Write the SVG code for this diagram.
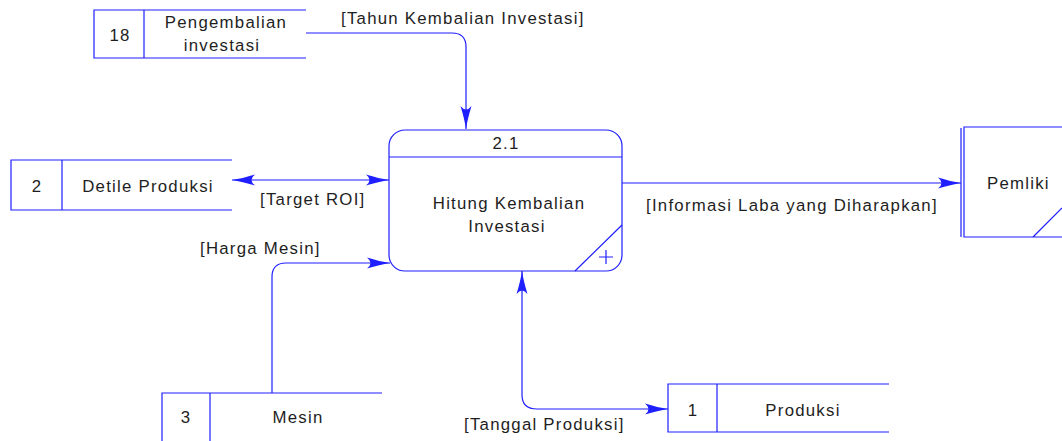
<svg xmlns="http://www.w3.org/2000/svg" width="1062" height="441" viewBox="0 0 1062 441">
  <style>
    .ln { fill: none; stroke: #1f1fff; stroke-width: 1.2; }
    .t { font-family: "Liberation Sans", Arial, sans-serif; font-size: 16.8px; letter-spacing: 1.25px; fill: #1e1e1e; }
    .m { text-anchor: middle; }
  </style>
  <defs>
    <marker id="arr" viewBox="-24 -6 25 12" refX="0" refY="0" markerWidth="25" markerHeight="12" markerUnits="userSpaceOnUse" orient="auto-start-reverse">
      <path d="M0,0 Q-10,-1.5 -23,-5.5 Q-16,0 -23,5.5 Q-10,1.5 0,0 Z" fill="#1f1fff"/>
    </marker>
  </defs>
  <rect width="1062" height="441" fill="#ffffff"/>

  <!-- data flows -->
  <g id="connectors">
    <path class="ln" d="M306,33 H452 Q466,33 466,47 V129" marker-end="url(#arr)"/>
    <path class="ln" d="M232,180 H389" marker-start="url(#arr)" marker-end="url(#arr)"/>
    <path class="ln" d="M272,393 V277 Q272,263 286,263 H390" marker-end="url(#arr)"/>
    <path class="ln" d="M522,271 V395 Q522,409 537,409 H668" marker-start="url(#arr)" marker-end="url(#arr)"/>
    <path class="ln" d="M622,183 H961" marker-end="url(#arr)"/>
    <text class="t" x="341" y="24">[Tahun Kembalian Investasi]</text>
    <text class="t" x="260" y="205">[Target ROI]</text>
    <text class="t" x="200" y="254">[Harga Mesin]</text>
    <text class="t" x="646" y="211">[Informasi Laba yang Diharapkan]</text>
    <text class="t" x="464" y="430">[Tanggal Produksi]</text>
  </g>

  <!-- process 2.1 -->
  <g id="process-2-1">
    <rect class="ln" x="389" y="130" width="233" height="141" rx="16" ry="16"/>
    <path class="ln" d="M389,157 H622 M575,271 L622,225"/>
    <path class="ln" d="M599,257 H613 M606,250 V264" stroke-width="1"/>
    <text class="t m" x="506" y="149">2.1</text>
    <text class="t m" x="509" y="209">Hitung Kembalian</text>
    <text class="t m" x="507" y="232">Investasi</text>
  </g>

  <!-- data store 18 -->
  <g id="store-18">
    <path class="ln" d="M306,10 H94 V58 H306 M144,10 V58"/>
    <text class="t m" x="120" y="41">18</text>
    <text class="t m" x="226" y="28">Pengembalian</text>
    <text class="t m" x="222" y="51">investasi</text>
  </g>

  <!-- data store 2 -->
  <g id="store-2">
    <path class="ln" d="M232,160 H11 V210 H232 M62,160 V210"/>
    <text class="t m" x="37" y="192">2</text>
    <text class="t m" x="148" y="192">Detile Produksi</text>
  </g>

  <!-- data store 3 -->
  <g id="store-3">
    <path class="ln" d="M382,393 H162 V441 M210,393 V441"/>
    <text class="t m" x="186" y="423">3</text>
    <text class="t m" x="298" y="423">Mesin</text>
  </g>

  <!-- data store 1 -->
  <g id="store-1">
    <path class="ln" d="M889,384 H668 V432 H889 M717,384 V432"/>
    <text class="t m" x="693" y="416">1</text>
    <text class="t m" x="803" y="416">Produksi</text>
  </g>

  <!-- external entity -->
  <g id="entity-pemliki">
    <path class="ln" d="M1062,127 H964 V237 H1062 M961,128 V237 M1033,237 L1062,208"/>
    <text class="t" x="987" y="189">Pemliki</text>
  </g>
</svg>
